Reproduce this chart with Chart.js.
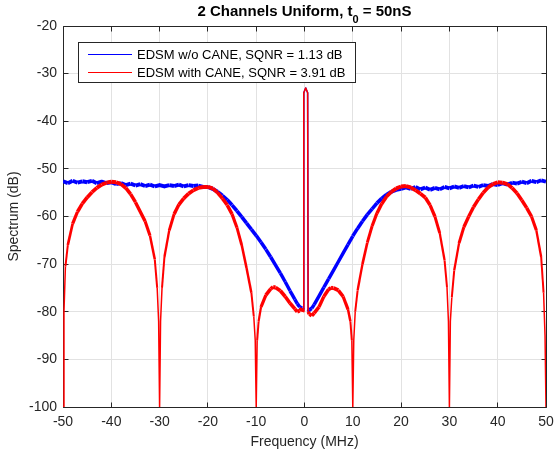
<!DOCTYPE html>
<html>
<head>
<meta charset="utf-8">
<script src="https://cdn.jsdelivr.net/npm/chart.js@4/dist/chart.umd.min.js"></script>
<style>
  html, body { margin: 0; padding: 0; background: #fff; }
</style>
</head>
<body>
<canvas id="spectrum" width="555" height="463"></canvas>
<script>
// spectrum without CANE (MHz / dB)
const blueFreq = [
    -50, -49, -48, -47, -46, -45, -44, -43, -42, -41,
    -40, -39, -38, -37, -36, -35, -34, -33, -32, -31,
    -30, -29, -28, -27, -26, -25, -24, -23, -22, -21,
    -20, -19, -18, -17, -16, -15, -14, -13, -12, -11,
    -10, -9, -8, -7, -6, -5, -4, -3, -2, -1.5,
    -1, -0.5, -0.25, -0.15, 0.25, 0.65, 0.75, 1, 1.5, 2,
    3, 4, 5, 6, 7, 8, 9, 10, 11, 12,
    13, 14, 15, 16, 17, 18, 19, 20, 21, 22,
    23, 24, 25, 26, 27, 28, 29, 30, 31, 32,
    33, 34, 35, 36, 37, 38, 39, 40, 41, 42,
    43, 44, 45, 46, 47, 48, 49, 50
]
const blueLevel = [
    -52.6, -53.0, -52.5, -52.9, -52.6, -52.8, -52.5, -53.0, -52.7, -53.0,
    -52.8, -53.2, -53.0, -53.4, -53.1, -53.5, -53.2, -53.6, -53.3, -53.7,
    -53.4, -53.7, -53.4, -53.6, -53.3, -53.7, -53.4, -53.6, -53.5, -53.8,
    -53.8, -54.2, -54.8, -55.6, -56.5, -57.6, -58.8, -60.1, -61.4, -62.7,
    -64.0, -65.4, -66.9, -68.5, -70.2, -71.9, -73.7, -75.6, -77.4, -78.3,
    -79.0, -79.3, -79.6, -34.0, -33.0, -34.0, -80.0, -79.6, -79.3, -78.5,
    -76.7, -74.9, -73.1, -71.3, -69.5, -67.7, -65.9, -64.1, -62.5, -61.0,
    -59.6, -58.4, -57.2, -56.2, -55.4, -54.8, -54.4, -54.2, -53.9, -54.2,
    -53.8, -54.3, -53.9, -54.4, -54.0, -54.3, -53.8, -54.1, -53.7, -54.0,
    -53.6, -53.9, -53.5, -53.8, -53.4, -53.6, -53.2, -53.4, -53.0, -53.3,
    -52.9, -53.1, -52.7, -53.0, -52.5, -52.8, -52.4, -52.7
]

// spectrum with CANE
const redFreq = [
    -50, -49.8, -49.5, -49, -48, -47, -46, -45, -44, -43,
    -42, -41, -40, -39, -38, -37, -36, -35, -34, -33,
    -32, -31, -30.5, -30.2, -30, -29.8, -29.5, -29, -28, -27,
    -26, -25, -24, -23, -22, -21, -20, -19, -18, -17,
    -16, -15, -14, -13, -12, -11, -10.5, -10.2, -10, -9.8,
    -9.5, -9, -8, -7, -6.5, -6, -5, -4, -3, -2,
    -1.5, -1, -0.5, -0.25, -0.15, 0.25, 0.65, 0.75, 1, 1.5,
    2, 3, 4, 5, 5.5, 6, 7, 8, 9, 9.5,
    9.8, 10, 10.2, 10.5, 11, 12, 13, 14, 15, 16,
    17, 18, 19, 20, 21, 22, 23, 24, 25, 26,
    27, 28, 29, 29.5, 29.8, 30, 30.2, 30.5, 31, 32,
    33, 34, 35, 36, 37, 38, 39, 40, 41, 42,
    43, 44, 45, 46, 47, 48, 49, 49.5, 49.8, 50
]
const redLevel = [
    -100, -80, -70.5, -66.0, -61.5, -59.0, -57.3, -56.0, -54.9, -54.0,
    -53.3, -52.9, -52.7, -52.8, -53.2, -54.0, -55.3, -57.0, -59.0, -61.0,
    -64.0, -69.0, -75.0, -82.0, -100, -82.0, -75.0, -68.5, -62.9, -59.5,
    -57.5, -56.2, -55.2, -54.5, -54.0, -53.8, -53.8, -54.1, -55.0, -56.2,
    -57.6, -59.5, -62.3, -66.0, -70.8, -76.0, -81.0, -86.0, -100, -86.0,
    -82.0, -79.0, -76.5, -75.2, -74.8, -74.9, -75.6, -76.8, -78.2, -79.4,
    -80.0, -79.8, -79.3, -80.0, -34.0, -33.0, -34.0, -80.0, -80.5, -80.8,
    -80.3, -79.0, -76.8, -75.3, -75.0, -75.0, -75.5, -76.8, -79.5, -82.0,
    -86.0, -100, -86.0, -80.0, -75.5, -70.0, -65.5, -62.0, -59.3, -57.3,
    -55.8, -54.8, -54.1, -53.7, -53.6, -53.9, -54.5, -55.2, -56.0, -57.6,
    -60.0, -63.5, -69.2, -74.8, -82.0, -100, -82.0, -77.0, -71.3, -65.6,
    -62.2, -60.0, -58.0, -56.4, -55.0, -53.9, -53.2, -52.8, -52.9, -53.2,
    -54.0, -55.1, -56.6, -58.2, -60.0, -62.9, -68.5, -76.0, -85.0, -100
]

const freqTicks = [-50, -40, -30, -20, -10, 0, 10, 20, 30, 40, 50]
const levelTicks = [-100, -90, -80, -70, -60, -50, -40, -30, -20]
const seriesNames = ['EDSM w/o CANE, SQNR = 1.13 dB', 'EDSM with CANE, SQNR = 3.91 dB']

const ink = '#262626'
const face = '"Liberation Sans", Arial, Helvetica, sans-serif'

function toPoints(xs, ys) {
    return xs.map((x, i) => ({ x: x, y: ys[i] }))
}

// the noisy trace looks thick where it is flat and thin where it falls steeply;
// the tone in the middle is a thin line all the way
function segWidth(ctx) {
    const dx = Math.abs(ctx.p1.parsed.x - ctx.p0.parsed.x)
    const dy = Math.abs(ctx.p1.parsed.y - ctx.p0.parsed.y)
    const slope = dy / dx
    if (slope > 15 || Math.max(ctx.p0.parsed.y, ctx.p1.parsed.y) > -45) return 1.5
    return Math.max(2, 4 - slope * 0.3)
}

// box, inward ticks, legend and title drawn by hand
const frame = {
    id: 'frame',
    beforeDatasetsDraw(chart) {
        const c = chart.ctx
        const a = chart.chartArea
        const xs = chart.scales.x
        const ys = chart.scales.y
        const L = Math.floor(a.left) + 0.5
        const R = Math.floor(a.right) + 0.5
        const T = Math.floor(a.top) + 0.5
        const B = Math.floor(a.bottom) + 0.5
        c.save()
        c.strokeStyle = ink
        c.lineWidth = 1
        c.beginPath()
        c.rect(L, T, R - L, B - T)
        freqTicks.forEach(v => {
            const p = Math.floor(xs.getPixelForValue(v)) + 0.5
            c.moveTo(p, B); c.lineTo(p, B - 5)
            c.moveTo(p, T); c.lineTo(p, T + 5)
        })
        levelTicks.forEach(v => {
            const p = Math.floor(ys.getPixelForValue(v)) + 0.5
            c.moveTo(L, p); c.lineTo(L + 5, p)
            c.moveTo(R, p); c.lineTo(R - 5, p)
        })
        c.stroke()
        c.restore()
    },
    afterDatasetsDraw(chart) {
        const c = chart.ctx
        const colors = ['#0000ff', '#ff0000']
        c.save()
        c.fillStyle = '#fff'
        c.fillRect(78.5, 42.5, 277, 40)
        c.strokeStyle = ink
        c.lineWidth = 1
        c.strokeRect(78.5, 42.5, 277, 40)
        c.font = '13px ' + face
        c.textBaseline = 'middle'
        seriesNames.forEach((name, i) => {
            const y = 54 + i * 18
            c.strokeStyle = colors[i]
            c.beginPath()
            c.moveTo(88, y + 0.5); c.lineTo(132, y + 0.5)
            c.stroke()
            c.fillStyle = '#000'
            c.fillText(name, 137, y + 1)
        })
        c.restore()
    },
    afterDraw(chart) {
        const c = chart.ctx
        const a = chart.chartArea
        const head = '2 Channels Uniform, t'
        const sub = '0'
        const tail = ' = 50nS'
        c.save()
        c.fillStyle = '#000'
        c.textBaseline = 'alphabetic'
        c.font = 'bold 15px ' + face
        const w1 = c.measureText(head).width
        const w3 = c.measureText(tail).width
        c.font = 'bold 11px ' + face
        const w2 = c.measureText(sub).width
        let x = (a.left + a.right) / 2 - (w1 + w2 + w3) / 2
        c.font = 'bold 15px ' + face
        c.fillText(head, x, 16)
        x += w1
        c.font = 'bold 11px ' + face
        c.fillText(sub, x, 22.5)
        x += w2
        c.font = 'bold 15px ' + face
        c.fillText(tail, x, 16)
        c.restore()
    }
}

new Chart(document.querySelector('#spectrum'), {
    type: 'line',
    data: {
        datasets: [{
            label: seriesNames[0],
            data: toPoints(blueFreq, blueLevel),
            borderColor: '#0000ff',
            borderWidth: 4,
            borderJoinStyle: 'round',
            pointRadius: 0,
            order: 2,
            segment: { borderWidth: segWidth }
        }, {
            label: seriesNames[1],
            data: toPoints(redFreq, redLevel),
            borderColor: '#ff0000',
            borderWidth: 4,
            borderJoinStyle: 'round',
            pointRadius: 0,
            order: 1,
            segment: { borderWidth: segWidth }
        }]
    },
    options: {
        responsive: false,
        animation: false,
        layout: { padding: { top: 26, right: 9, left: 0, bottom: 0 } },
        plugins: {
            legend: { display: false },
            tooltip: { enabled: false }
        },
        scales: {
            x: {
                type: 'linear',
                min: -50,
                max: 50,
                afterFit: s => {
                    s.height = 56
                    s.paddingLeft = 0
                    s.paddingRight = 0
                },
                afterBuildTicks: s => { s.ticks = freqTicks.map(v => ({ value: v })) },
                ticks: { color: ink, padding: 7, font: { family: face, size: 14 } },
                grid: { color: '#e2e2e2', drawTicks: false },
                border: { display: false },
                title: {
                    display: true,
                    text: 'Frequency (MHz)',
                    color: ink,
                    font: { family: face, size: 14 },
                    padding: { top: 0, bottom: 12 }
                }
            },
            y: {
                type: 'linear',
                min: -100,
                max: -20,
                afterFit: s => {
                    s.width = 63
                    s.paddingTop = 0
                    s.paddingBottom = 0
                },
                afterBuildTicks: s => { s.ticks = levelTicks.map(v => ({ value: v })) },
                ticks: { color: ink, padding: 6, font: { family: face, size: 14 } },
                grid: { color: '#e2e2e2', drawTicks: false },
                border: { display: false },
                title: {
                    display: true,
                    text: 'Spectrum (dB)',
                    color: ink,
                    font: { family: face, size: 14 },
                    padding: { top: 6, bottom: 0 }
                }
            }
        }
    },
    plugins: [frame]
})
</script>
</body>
</html>
